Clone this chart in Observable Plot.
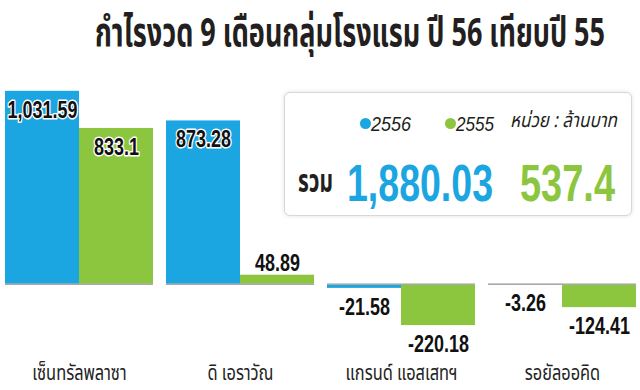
<!DOCTYPE html>
<html><head><meta charset="utf-8">
<script src="https://cdn.jsdelivr.net/npm/d3@7"></script>
<script src="https://cdn.jsdelivr.net/npm/@observablehq/plot@0.6"></script>
<style>
body{margin:0;background:#fff;}
#wrap{position:relative;width:640px;height:390px;overflow:hidden;font-family:"Noto Sans Thai","Noto Sans Thai UI",Loma,Garuda,sans-serif;color:#231f20;}
#wrap svg{position:absolute;left:0;top:0;}
.fit{position:absolute;white-space:nowrap;transform-origin:0 0;line-height:1;}
.dot{position:absolute;border-radius:50%;}
#box{position:absolute;left:284px;top:92px;width:346px;height:122px;border:1px solid #d8d8d8;border-radius:6px;background:#fff;box-shadow:0 0 4px rgba(0,0,0,0.12);}
</style></head><body><div id="wrap"></div>
<script>
const categories = ["เซ็นทรัลพลาซา", "ดิ เอราวัณ", "แกรนด์ แอสเสทฯ", "รอยัลออคิด"];
const years = ["2556", "2555"];
const values2556 = [1031.59, 873.28, -21.58, -3.26];
const values2555 = [833.1, 48.89, -220.18, -124.41];
const totals = [1880.03, 537.4];
const titleText = "กำไรงวด 9 เดือนกลุ่มโรงแรม ปี 56 เทียบปี 55";
const unitText = "หน่วย : ล้านบาท";
const totalText = "รวม";
const colors = ["#1ba6e1", "#8cc63f"];

const data = [];
categories.forEach((c, i) => {
  data.push({cat: c, year: years[0], value: values2556[i]});
  data.push({cat: c, year: years[1], value: values2555[i]});
});
const fmt = v => v.toLocaleString("en-US", {maximumFractionDigits: 2});
const numFont = "'Liberation Sans',Arial,sans-serif";
const thaiFont = "'Noto Sans Thai','Noto Sans Thai UI',Loma,Garuda,sans-serif";

const chart = Plot.plot({
  width: 640, height: 390,
  marginLeft: 0, marginRight: 0, marginTop: 78, marginBottom: 50,
  style: {background: "transparent", overflow: "visible"},
  fx: {domain: categories, paddingInner: 0.081, paddingOuter: 0.025, axis: null},
  x: {domain: years, padding: 0, axis: null},
  y: {domain: [-300, 1100], axis: null},
  color: {domain: years, range: colors},
  marks: [
    Plot.barY(data, {fx: "cat", x: "year", y: "value", fill: "year"}),
    Plot.ruleY([0], {stroke: "#a8a8a8", strokeWidth: 1.5}),
    Plot.text(data.filter(d => d.value >= 100), {fx: "cat", x: "year", y: "value", text: d => fmt(d.value), dy: 19,
      fill: "#111", stroke: "white", strokeWidth: 3, fontSize: 23, fontWeight: "bold", fontFamily: numFont}),
    Plot.text(data.filter(d => d.value >= 0 && d.value < 100), {fx: "cat", x: "year", y: "value", text: d => fmt(d.value), dy: -12,
      fill: "#111", fontSize: 23, fontWeight: "bold", fontFamily: numFont}),
    Plot.text(data.filter(d => d.value < 0), {fx: "cat", x: "year", y: "value", text: d => fmt(d.value), dy: 19,
      fill: "#111", fontSize: 23, fontWeight: "bold", fontFamily: numFont}),
    Plot.text(categories, {fx: d => d, text: d => d, frameAnchor: "bottom", dy: 39,
      fill: "#222", fontSize: 21, fontFamily: thaiFont})
  ]
});
const wrap = document.getElementById("wrap");
wrap.appendChild(chart);

// condense the SVG texts (narrow typeface look)
d3.select(chart).selectAll("text").each(function() {
  const t = this.textContent;
  const f = categories.includes(t) ? 0.78 : 0.78;
  const len = this.getComputedTextLength();
  if (len > 0) {
    this.setAttribute("textLength", len * f);
    this.setAttribute("lengthAdjust", "spacingAndGlyphs");
  }
});

const box = document.createElement("div");
box.id = "box";
wrap.appendChild(box);

function addText(txt, left, cy, size, width, opts = {}) {
  const el = document.createElement("div");
  el.className = "fit";
  el.textContent = txt;
  el.style.fontSize = size + "px";
  el.style.fontWeight = opts.weight || "normal";
  el.style.fontStyle = opts.italic ? "italic" : "normal";
  el.style.color = opts.color || "#231f20";
  if (opts.font) el.style.fontFamily = opts.font;
  el.style.left = left + "px";
  wrap.appendChild(el);
  const r = el.getBoundingClientRect();
  el.style.top = (cy - r.height / 2) + "px";
  el.style.transform = `scaleX(${width / r.width})`;
  return el;
}
function addDot(cx, cy, d, color) {
  const el = document.createElement("div");
  el.className = "dot";
  Object.assign(el.style, {left: (cx - d / 2) + "px", top: (cy - d / 2) + "px", width: d + "px", height: d + "px", background: color});
  wrap.appendChild(el);
}

addText(titleText, 95, 34, 40, 510, {weight: "bold"});
addDot(365, 123, 11, colors[0]);
addText(years[0], 371, 123, 21, 40, {italic: true, font: numFont});
addDot(450, 123, 11, colors[1]);
addText(years[1], 456, 123, 21, 38, {italic: true, font: numFont});
addText(unitText, 510, 121, 20, 107, {italic: true});
addText(totalText, 298, 182, 32, 35, {weight: "bold"});
addText(fmt(totals[0]), 347, 183, 52, 146, {weight: "bold", color: colors[0], font: numFont});
addText(fmt(totals[1]), 520, 183, 52, 95, {weight: "bold", color: colors[1], font: numFont});
</script></body></html>
